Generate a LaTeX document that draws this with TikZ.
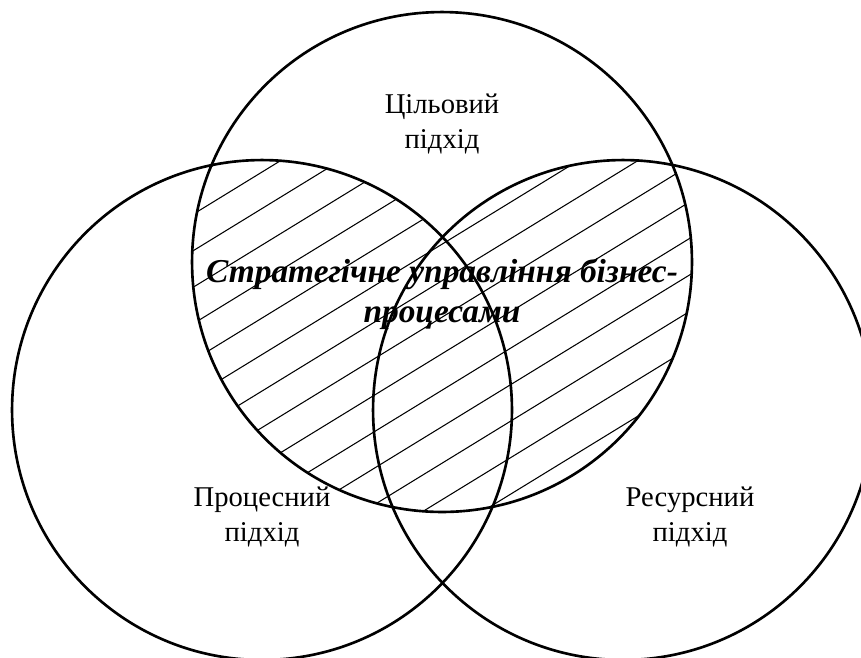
\documentclass[tikz,border=0pt]{standalone}
\usepackage{fontspec}
\setmainfont{Liberation Serif}
\usetikzlibrary{calc,positioning}

\begin{document}
\begin{tikzpicture}[x=0.02cm,y=-0.02cm,
	approach/.style={align=center,font=\fontsize{16.3}{20}\selectfont},
	core/.style={align=center,font=\fontsize{19}{22.7}\selectfont\bfseries\itshape}]
	\coordinate (NW) at (0,0);
	\coordinate (SE) at (861,657);
	\useasboundingbox (NW) rectangle (SE);
	\clip (NW) rectangle (SE);
	\coordinate (GOAL) at (442,262);
	\coordinate (PROC) at (262,410);
	\coordinate (RES) at (623,410);
	% hatching: top circle and (left or right)
	\begin{scope}
		\clip (GOAL) circle [radius=5cm];
		\clip (PROC) circle [radius=5cm] (RES) circle [radius=5cm];
		\foreach \k in {-2,...,17}{
			\pgfmathsetmacro\c{332.7+36.5*\k}
			\draw[black,line width=0.6] (150,{\c-92}) to (750,{\c-459.8});
		}
	\end{scope}
	\draw[black,line width=1.5] (GOAL) circle [radius=5cm];
	\draw[black,line width=1.5] (PROC) circle [radius=5cm];
	\draw[black,line width=1.5] (RES) circle [radius=5cm];
	\node[approach] (goallabel) at ($ (GOAL) - (0,138) $) {Цільовий\\підхід};
	\node[approach] (proclabel) at ($ (PROC) + (0,107) $) {Процесний\\підхід};
	\node[approach] (reslabel) at ($ (RES) + (67,107) $) {Ресурсний\\підхід};
	\node[core] (corelabel) at ($ (GOAL) + (0,32) $) {Стратегічне управління бізнес-\\процесами};
\end{tikzpicture}
\end{document}
